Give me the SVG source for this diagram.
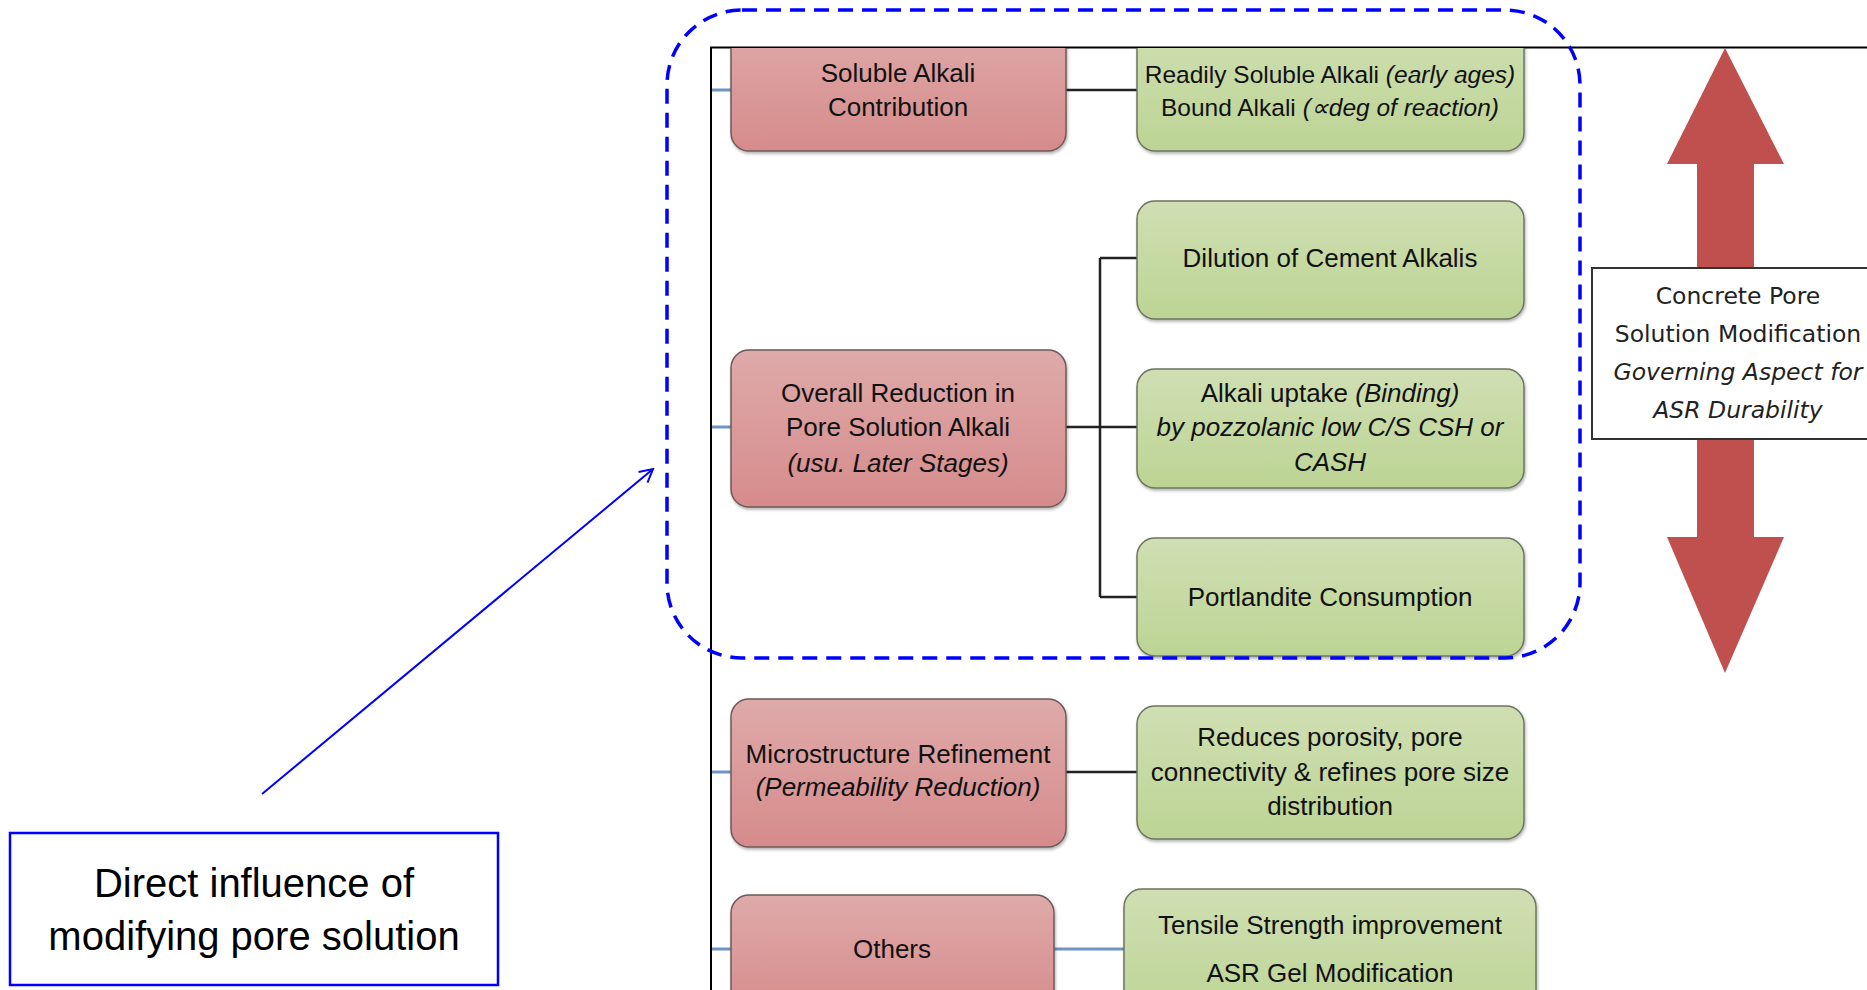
<svg xmlns="http://www.w3.org/2000/svg" width="1867" height="990" viewBox="0 0 1867 990">
<defs>
<linearGradient id="gRed" x1="0" y1="0" x2="0" y2="1"><stop offset="0" stop-color="#dfaaaa"/><stop offset="1" stop-color="#d68b8b"/></linearGradient>
<linearGradient id="gGreen" x1="0" y1="0" x2="0" y2="1"><stop offset="0" stop-color="#d0dfb3"/><stop offset="1" stop-color="#bcd494"/></linearGradient>
<filter id="sh" x="-5%" y="-5%" width="110%" height="115%"><feDropShadow dx="1" dy="2" stdDeviation="1.5" flood-color="#000" flood-opacity="0.3"/></filter>
<clipPath id="frameClip"><rect x="712" y="48" width="1155" height="942"/></clipPath>
<marker id="openArrow" markerWidth="16" markerHeight="16" refX="14" refY="8" orient="auto" markerUnits="userSpaceOnUse"><path d="M1,1 L14,8 L1,15" fill="none" stroke="#0000ff" stroke-width="2"/></marker>
</defs>
<style>
.red{fill:url(#gRed);stroke:#6e5a5a;stroke-width:1.5}
.green{fill:url(#gGreen);stroke:#6b7560;stroke-width:1.5}
.t{font-family:"Liberation Sans",Arial,sans-serif;font-size:26px;fill:#111;text-anchor:middle}
.t.s{font-size:24.5px}
.i{font-style:italic}
.conn{stroke:#222;stroke-width:2.5;fill:none}
.stub{stroke:#6f93c4;stroke-width:3;fill:none}
.bt{font-family:"DejaVu Sans",Verdana,sans-serif;font-size:23.5px;fill:#222;text-anchor:middle}
</style>
<rect x="0" y="0" width="1867" height="990" fill="#fff"/>

<g id="frame"><path d="M711,990 L711,47.5 L1867,47.5" fill="none" stroke="#000" stroke-width="2"/></g>

<g id="doubleArrow"><polygon points="1725,48 1784,164 1754,164 1754,537 1784,537 1725,673 1667,537 1697,537 1697,164 1667,164" fill="#c0504d"/></g>

<g id="connectors">
<path class="stub" d="M712,90 H731 M712,427 H731 M712,772 H731 M712,949 H731"/>
<path class="conn" d="M1066,90 H1137"/>
<path class="conn" d="M1066,427 H1100 M1100,258 V597 M1100,258 H1137 M1100,427 H1137 M1100,597 H1137"/>
<path class="conn" d="M1066,772 H1137"/>
<path class="stub" d="M1054,949 H1124"/>
<path d="M262,794 L653,469" stroke="#0000ff" stroke-width="2" fill="none" marker-end="url(#openArrow)"/>
</g>

<g id="n_soluble" clip-path="url(#frameClip)"><rect class="red" x="731" y="20" width="335" height="131" rx="18" filter="url(#sh)"/>
<text class="t" x="898" y="82">Soluble Alkali</text><text class="t" x="898" y="116">Contribution</text></g>

<g id="n_readily" clip-path="url(#frameClip)"><rect class="green" x="1137" y="20" width="387" height="131" rx="18" filter="url(#sh)"/>
<text class="t s" x="1330" y="83">Readily Soluble Alkali <tspan class="i">(early ages)</tspan></text>
<text class="t s" x="1330" y="116">Bound Alkali <tspan class="i">(∝deg of reaction)</tspan></text></g>

<g id="n_overall"><rect class="red" x="731" y="350" width="335" height="157" rx="18" filter="url(#sh)"/>
<text class="t" x="898" y="402">Overall Reduction in</text><text class="t" x="898" y="436">Pore Solution Alkali</text><text class="t i" x="898" y="472">(usu. Later Stages)</text></g>

<g id="n_dilution"><rect class="green" x="1137" y="201" width="387" height="118" rx="18" filter="url(#sh)"/>
<text class="t" x="1330" y="267">Dilution of Cement Alkalis</text></g>

<g id="n_uptake"><rect class="green" x="1137" y="369" width="387" height="119" rx="18" filter="url(#sh)"/>
<text class="t" x="1330" y="402">Alkali uptake <tspan class="i">(Binding)</tspan></text>
<text class="t i" x="1330" y="436">by pozzolanic low C/S CSH or</text><text class="t i" x="1330" y="471">CASH</text></g>

<g id="n_portlandite"><rect class="green" x="1137" y="538" width="387" height="118" rx="18" filter="url(#sh)"/>
<text class="t" x="1330" y="606">Portlandite Consumption</text></g>

<g id="n_micro"><rect class="red" x="731" y="699" width="335" height="148" rx="18" filter="url(#sh)"/>
<text class="t" x="898" y="763">Microstructure Refinement</text><text class="t i" x="898" y="796">(Permeability Reduction)</text></g>

<g id="n_reduces"><rect class="green" x="1137" y="706" width="387" height="133" rx="18" filter="url(#sh)"/>
<text class="t" x="1330" y="746">Reduces porosity,  pore</text><text class="t" x="1330" y="781">connectivity &amp; refines pore size</text><text class="t" x="1330" y="815">distribution</text></g>

<g id="n_others"><rect class="red" x="731" y="895" width="323" height="120" rx="18" filter="url(#sh)"/>
<text class="t" x="892" y="958">Others</text></g>

<g id="n_tensile"><rect class="green" x="1124" y="889" width="412" height="130" rx="18" filter="url(#sh)"/>
<text class="t" x="1330" y="934">Tensile Strength improvement</text><text class="t" x="1330" y="982">ASR Gel Modification</text></g>

<g id="n_concrete"><rect x="1592" y="268" width="300" height="171" fill="#fff" stroke="#333" stroke-width="2"/>
<text class="bt" x="1738" y="304">Concrete Pore</text><text class="bt" x="1738" y="342">Solution Modification</text>
<text class="bt i" x="1738" y="380">Governing Aspect for</text><text class="bt i" x="1738" y="418">ASR Durability</text></g>

<g id="n_highlight"><rect x="667" y="10" width="913" height="648" rx="75" fill="none" stroke="#0000ff" stroke-width="3.5" stroke-dasharray="15 9"/></g>

<g id="n_callout"><rect x="10" y="833" width="488" height="152" fill="#fff" stroke="#0000ff" stroke-width="2.5"/>
<text x="254" y="897" font-family="Liberation Sans,Arial,sans-serif" font-size="40" fill="#000" text-anchor="middle">Direct influence of</text>
<text x="254" y="950" font-family="Liberation Sans,Arial,sans-serif" font-size="40" fill="#000" text-anchor="middle">modifying pore solution</text></g>
</svg>
